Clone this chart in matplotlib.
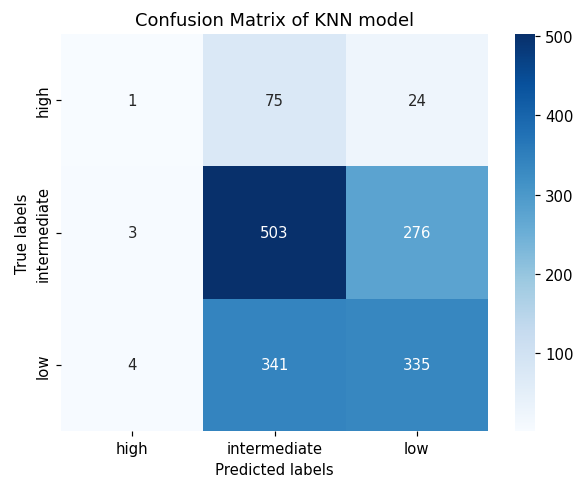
import matplotlib
matplotlib.use("Agg")
import matplotlib.pyplot as plt
import seaborn as sns
import numpy as np

labels = ["high", "intermediate", "low"]
cm = np.array([[1, 75, 24],
               [3, 503, 276],
               [4, 341, 335]])

DPI = 107
fig = plt.figure(figsize=(577 / DPI, 485 / DPI), dpi=DPI)
W, H = 577, 485
ax = fig.add_axes([61 / W, 1 - 432 / H, (488 - 61) / W, (432 - 35) / H])
cax = fig.add_axes([515 / W, 1 - 432 / H, 19.5 / W, (432 - 35) / H])
sns.heatmap(cm, annot=True, fmt="d", cmap="Blues", ax=ax, cbar_ax=cax,
            xticklabels=labels, yticklabels=labels)
ax.set_xlabel("Predicted labels")
ax.set_ylabel("True labels")
ax.set_title("Confusion Matrix of KNN model")
fig.savefig("out.png", dpi=DPI)
